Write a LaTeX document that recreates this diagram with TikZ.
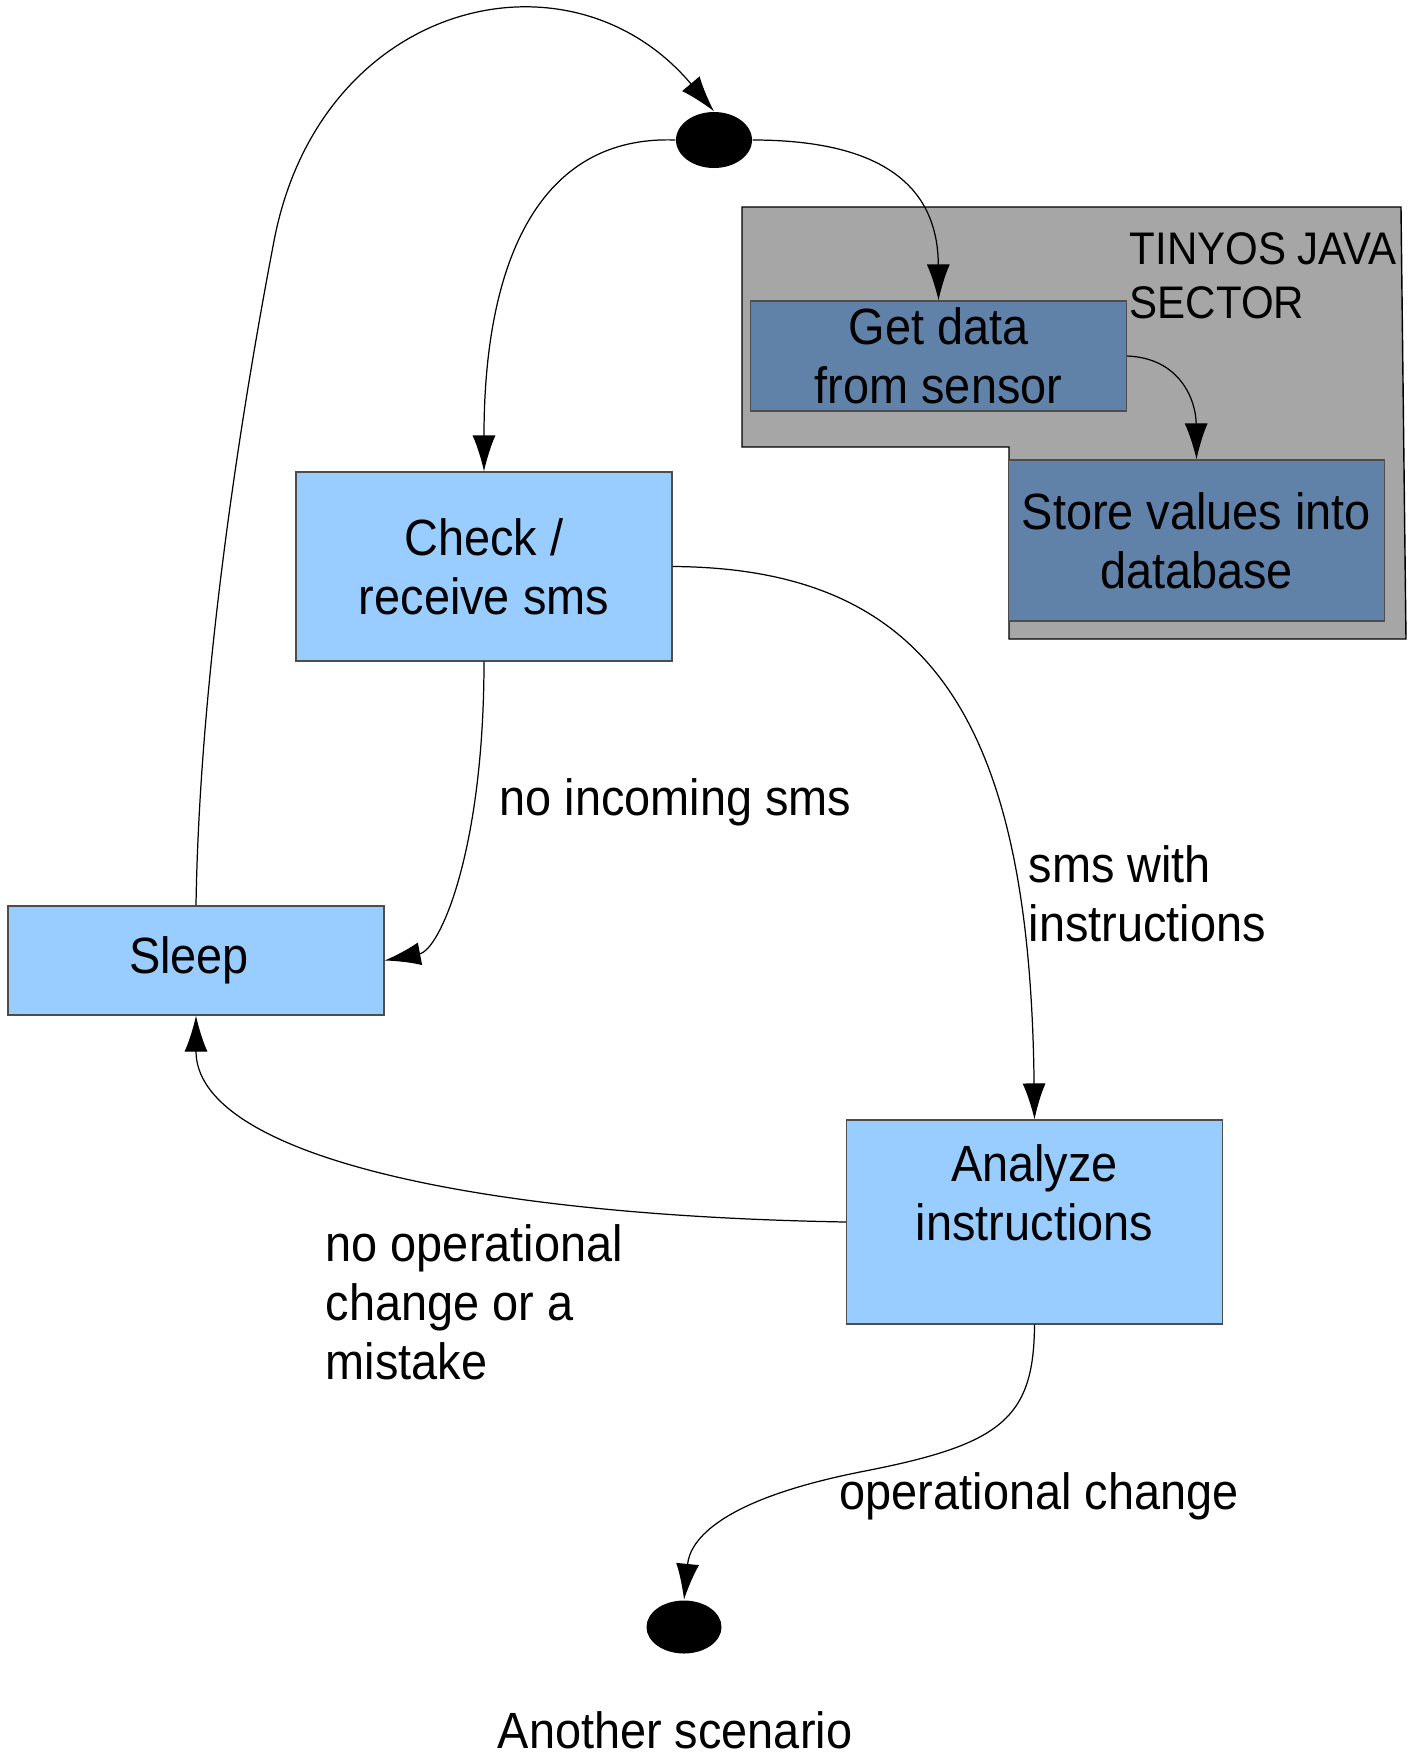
\documentclass[tikz,border=0pt]{standalone}
\usepackage{fontspec}
\setmainfont{Liberation Sans}[FakeStretch=0.92]
\usepackage{xcolor}
\usetikzlibrary{arrows.meta,shapes.geometric}

\definecolor{statefill}{HTML}{99CCFF}
\definecolor{javafill}{HTML}{6182A8}
\definecolor{sectorfill}{HTML}{A6A6A6}
\definecolor{boxline}{HTML}{4D4D4D}

\begin{document}
\begin{tikzpicture}[x=0.1mm,y=-0.1mm,
  every node/.style={font=\fontsize{14.5}{16.8}\selectfont},
  state/.style={draw=boxline,line width=0.35pt,fill=statefill,align=center,
    minimum width=37.6mm,inner sep=0pt},
  javastate/.style={state,fill=javafill},
  terminal/.style={ellipse,fill=black,inner sep=0pt},
  lbl/.style={anchor=west,align=left,inner sep=0pt},
  flow/.style={line width=0.35pt,-{Latex[length=3.6mm,width=2.3mm]}}]
\useasboundingbox (0,0) rectangle (1413,1755);

% java part of the system
\draw[fill=sectorfill,line width=0.4pt] (742,207) -- (1401,207) -- (1406,639)
  -- (1009,639) -- (1009,447) -- (742,447) -- cycle;
\node[lbl,font=\fontsize{13}{15.4}\selectfont] (sector) at (1129,276) {TINYOS JAVA\\SECTOR};

\node[terminal,minimum width=7.6mm,minimum height=5.6mm] (init) at (714,140) {};
\node[javastate,minimum height=11mm] (getdata) at (938.5,356) {Get data\\from sensor};
\node[javastate,minimum height=16.1mm] (storedb) at (1196.5,540.5) {Store values into\\database};
\node[state,minimum height=18.9mm] (checksms) at (484,566.5) {Check /\\receive sms};
\node[state,minimum height=10.9mm] (sleep) at (196,960.5) {Sleep\kern1.4mm};
\node[state,minimum height=20.4mm] (analyze) at (1034.5,1222) {Analyze\\instructions\\\mbox{}};
\node[terminal,minimum width=7.5mm,minimum height=5.3mm] (finish) at (684,1627) {};

\node[lbl] (noincoming) at (499,802) {no incoming sms};
\node[lbl] (withinstr) at (1028,894) {sms with\\instructions};
\node[lbl] (nochange) at (325,1302) {no operational\\change or a\\mistake};
\node[lbl] (opchange) at (839,1496) {operational change};
\node[inner sep=0pt] (another) at (675,1730) {Another scenario};

% transitions
\draw[flow] (sleep.north) .. controls (200,650) and (251,361) .. (274,241)
  .. controls (320,0) and (570,-60) .. (init.north);
\draw[flow] (init.west) .. controls (540,135) and (484,260) .. (checksms.north);
\draw[flow] (init.east) .. controls (900,140) and (938,200) .. (getdata.north);
\draw[flow] (getdata.east) .. controls (1180,358) and (1196,400) .. (storedb.north);
\draw[flow] (checksms.south) .. controls (484,850) and (440,950) .. (sleep.east);
\draw[flow] (checksms.east) .. controls (930,568) and (1030,720) .. (analyze.north);
\draw[flow] (analyze.west) .. controls (450,1215) and (196,1150) .. (sleep.south);
\draw[flow] (analyze.south) .. controls (1034,1420) and (1000,1445) .. (860,1472)
  .. controls (720,1500) and (690,1540) .. (finish.north);
\end{tikzpicture}
\end{document}
